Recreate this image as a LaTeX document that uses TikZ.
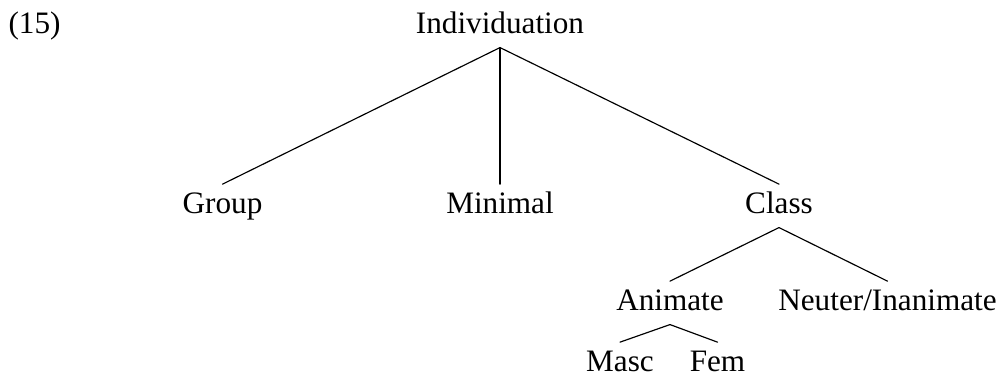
\documentclass[tikz,border=0pt]{standalone}
\usepackage{fontspec}
\setmainfont{Liberation Serif}
\begin{document}
\begin{tikzpicture}[
    % unita' in pixel del riferimento, asse y verso il basso
    x=0.3846pt,
    y=-0.3846pt,
    line join=round,
    line cap=round
  ]

  \tikzset{
    treenode/.style={inner xsep=0pt, inner ysep=2.7pt, text height=8.2pt, text depth=2.7pt,
                     font=\fontsize{12}{14}\selectfont, anchor=base},
    branch/.style={draw=black, line width=0.45pt}
  }

  \useasboundingbox (0,0) rectangle (1003,375);

  % 1. Numero dell'esempio
  \node[treenode, anchor=base west] (exnum) at (8,33) {(15)};

  % 2. Nodi dell'albero
  \node[treenode] (indiv)  at (500,33)   {Individuation};

  \node[treenode] (group)  at (222.5,213) {Group};
  \node[treenode] (minim)  at (500,213)   {Minimal};
  \node[treenode] (class)  at (779,213)   {Class};

  \node[treenode] (anim)   at (670,310)   {Animate};
  \node[treenode] (neuter) at (887.5,310) {Neuter/Inanimate};

  \node[treenode] (masc)   at (620,371)   {Masc};
  \node[treenode] (fem)    at (717.5,371) {Fem};

  % 3. Rami
  \foreach \p/\c in {indiv/group, indiv/minim, indiv/class,
                     class/anim, class/neuter,
                     anim/masc, anim/fem}
    \draw[branch] (\p.south) -- (\c.north);

\end{tikzpicture}
\end{document}
